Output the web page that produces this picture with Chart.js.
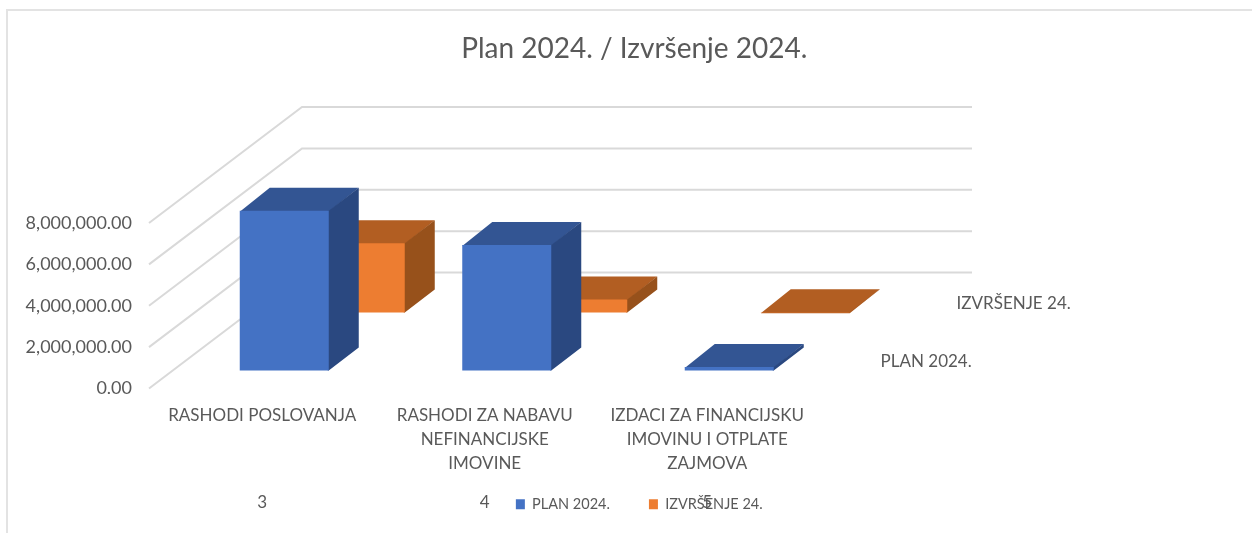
<!DOCTYPE html>
<html>
<head>
<meta charset="utf-8">
<title>Plan 2024. / Izvršenje 2024.</title>
<script src="https://cdn.jsdelivr.net/npm/chart.js@4"></script>
<style>
    html, body { margin: 0; padding: 0; background: #fff; overflow: hidden; }
    #wrap { position: relative; width: 1252px; height: 533px; }
    #frame { position: absolute; left: 6px; top: 9px; right: 0; bottom: 0; border-left: 2px solid #e3e3e3; border-top: 2px solid #e3e3e3; }
</style>
</head>
<body>
<div id="wrap">
    <div id="frame"></div>
    <canvas id="chart" width="1252" height="533"></canvas>
</div>
<script>
const categories = [
    ['RASHODI POSLOVANJA'],
    ['RASHODI ZA NABAVU', 'NEFINANCIJSKE', 'IMOVINE'],
    ['IZDACI ZA FINANCIJSKU', 'IMOVINU I OTPLATE', 'ZAJMOVA']
];
const categoryCodes = ['3', '4', '5'];
const planValues = [7720000, 6070000, 170000];
const izvrsenjeValues = [3350000, 630000, 15000];
const valueTicks = [0, 2000000, 4000000, 6000000, 8000000];

const fontName = 'Lato, "Open Sans", sans-serif';
const textColor = '#595959';

// pseudo 3D settings, everything is pushed back from the flat chart area
const barDepth = { x: 30, y: 23 };
const wallDepth = { x: 153, y: 116, length: 670 };
const seriesLabelOffset = { x: 40, y: -9 };

function fillPoly(ctx, color, points) {
    ctx.fillStyle = color;
    ctx.beginPath();
    points.forEach(function (p, i) {
        if (i === 0) {
            ctx.moveTo(p[0], p[1]);
        } else {
            ctx.lineTo(p[0], p[1]);
        }
    });
    ctx.closePath();
    ctx.fill();
}

const fake3dPlugin = {
    id: 'fake3d',
    afterLayout: function (chart) {
        // legend sits on top of the code labels, same as in the original
        const legend = chart.legend;
        const legendHeight = legend.bottom - legend.top;
        legend.top = 458;
        legend.bottom = legend.top + legendHeight;
        legend.left += 230;
        legend.right += 230;
        chart.titleBlock.left += 225;
        chart.titleBlock.right += 225;
    },
    beforeDatasetsDraw: function (chart) {
        const ctx = chart.ctx;
        const x = chart.scales.x;
        const y = chart.scales.y;
        ctx.save();
        ctx.strokeStyle = '#d9d9d9';
        ctx.lineWidth = 2;
        y.ticks.forEach(function (tick) {
            const py = y.getPixelForValue(tick.value);
            ctx.beginPath();
            ctx.moveTo(x.left - 2, py);
            ctx.lineTo(x.left - 2 + wallDepth.x, py - wallDepth.y);
            ctx.lineTo(x.left - 2 + wallDepth.x + wallDepth.length, py - wallDepth.y);
            ctx.stroke();
        });
        ctx.restore();
    },
    beforeDatasetDraw: function (chart, args) {
        const ctx = chart.ctx;
        const dataset = chart.data.datasets[args.index];
        ctx.save();
        ctx.translate(dataset.shift.x, dataset.shift.y);
        args.meta.data.forEach(function (bar) {
            const props = bar.getProps(['x', 'y', 'base', 'width'], true);
            const left = props.x - props.width / 2;
            const right = props.x + props.width / 2;
            // faces run 1px under the front so no seam shows through
            fillPoly(ctx, dataset.topColor, [
                [left, props.y + 1],
                [left + barDepth.x, props.y - barDepth.y],
                [right + barDepth.x, props.y - barDepth.y],
                [right, props.y + 1]
            ]);
            fillPoly(ctx, dataset.sideColor, [
                [right - 1, props.y],
                [right, props.y],
                [right + barDepth.x, props.y - barDepth.y],
                [right + barDepth.x, props.base - barDepth.y],
                [right, props.base],
                [right - 1, props.base]
            ]);
        });
    },
    afterDatasetDraw: function (chart) {
        chart.ctx.restore();
    },
    afterDatasetsDraw: function (chart) {
        const ctx = chart.ctx;
        const x = chart.scales.x;
        const y = chart.scales.y;
        ctx.save();
        ctx.font = '17px ' + fontName;
        ctx.fillStyle = textColor;
        ctx.textAlign = 'left';
        ctx.textBaseline = 'middle';
        chart.data.datasets.forEach(function (dataset) {
            ctx.fillText(
                dataset.label,
                x.right + seriesLabelOffset.x + dataset.shift.x,
                y.bottom + seriesLabelOffset.y + dataset.shift.y
            );
        });
        ctx.restore();
    }
};

new Chart(document.getElementById('chart'), {
    type: 'bar',
    data: {
        labels: categories,
        datasets: [
            {
                label: 'PLAN 2024.',
                data: planValues,
                backgroundColor: '#4472c4',
                topColor: '#335593',
                sideColor: '#2a4880',
                shift: { x: 22, y: -18 },
                clip: false
            },
            {
                label: 'IZVRŠENJE 24.',
                data: izvrsenjeValues,
                backgroundColor: '#ed7d31',
                topColor: '#b25e22',
                sideColor: '#97511b',
                shift: { x: 98, y: -76 },
                clip: false
            }
        ]
    },
    plugins: [fake3dPlugin],
    options: {
        responsive: false,
        animation: false,
        grouped: false,
        barPercentage: 0.4,
        categoryPercentage: 1,
        layout: {
            // negative bottom: the legend box hangs off the canvas until afterLayout moves it
            padding: { left: 0, right: 433.5, top: 0, bottom: -44 }
        },
        plugins: {
            tooltip: { enabled: false },
            title: {
                display: true,
                text: 'Plan 2024. / Izvršenje 2024.',
                color: textColor,
                font: { family: fontName, size: 28, weight: 'normal', lineHeight: 1.2 },
                padding: { top: 32, bottom: 157.4 }
            },
            legend: {
                display: true,
                position: 'bottom',
                labels: {
                    color: textColor,
                    boxWidth: 9,
                    boxHeight: 10,
                    padding: 39,
                    font: { family: fontName, size: 14.5 }
                }
            }
        },
        scales: {
            x: {
                grid: { display: false, drawTicks: false },
                border: { display: false },
                afterFit: function (scale) {
                    scale.height = 93;
                },
                ticks: {
                    color: textColor,
                    padding: 15,
                    maxRotation: 0,
                    autoSkip: false,
                    font: { family: fontName, size: 17, lineHeight: 1.42 }
                }
            },
            x2: {
                type: 'category',
                position: 'bottom',
                labels: categoryCodes,
                offset: true,
                grid: { display: false, drawTicks: false },
                border: { display: false },
                afterFit: function (scale) {
                    scale.height = 32;
                },
                ticks: {
                    color: textColor,
                    padding: 11,
                    font: { family: fontName, size: 17 }
                }
            },
            y: {
                min: 0,
                max: 8000000,
                grid: { display: false, drawTicks: false },
                border: { display: false },
                afterFit: function (scale) {
                    scale.width = 151;
                },
                afterBuildTicks: function (scale) {
                    scale.ticks = valueTicks.map(function (value) {
                        return { value: value };
                    });
                },
                ticks: {
                    color: textColor,
                    padding: 19,
                    font: { family: fontName, size: 18 },
                    callback: function (value) {
                        return Number(value).toLocaleString('en-US', {
                            minimumFractionDigits: 2,
                            maximumFractionDigits: 2
                        });
                    }
                }
            }
        }
    }
});
</script>
</body>
</html>
